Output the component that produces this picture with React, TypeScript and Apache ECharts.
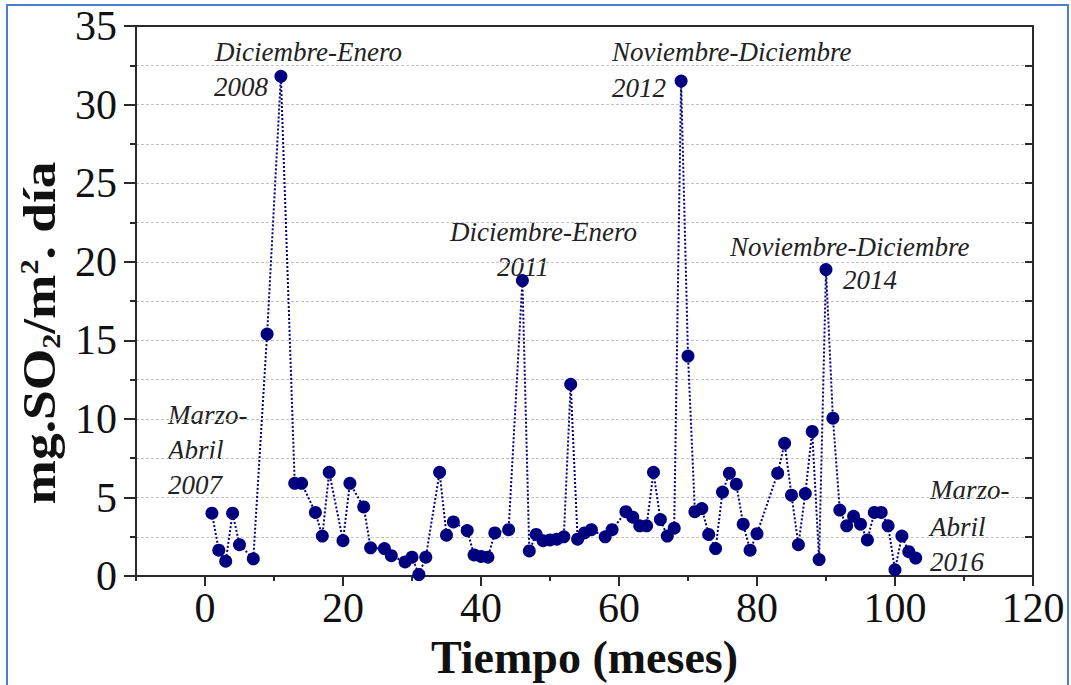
import React, { useEffect, useRef } from "react";
import * as echarts from "echarts";

const months = [1, 2, 3, 4, 5, 7, 9, 11, 13, 14, 16, 17, 18, 20, 21, 23, 24, 26, 27, 29, 30, 31, 32, 34, 35, 36, 38, 39, 40, 41, 42, 44, 46, 47, 48, 49, 50, 51, 52, 53, 54, 55, 56, 58, 59, 61, 62, 63, 64, 65, 66, 67, 68, 69, 70, 71, 72, 73, 74, 75, 76, 77, 78, 79, 80, 83, 84, 85, 86, 87, 88, 89, 90, 91, 92, 93, 94, 95, 96, 97, 98, 99, 100, 101, 102, 103];
const so2 = [4.0, 1.65, 0.95, 4.0, 2.0, 1.1, 15.4, 31.8, 5.9, 5.9, 4.05, 2.55, 6.6, 2.25, 5.9, 4.4, 1.8, 1.75, 1.3, 0.9, 1.2, 0.1, 1.2, 6.6, 2.6, 3.45, 2.9, 1.35, 1.25, 1.2, 2.75, 2.95, 18.8, 1.6, 2.65, 2.25, 2.3, 2.35, 2.5, 12.2, 2.35, 2.75, 2.95, 2.5, 2.95, 4.1, 3.75, 3.2, 3.2, 6.6, 3.6, 2.55, 3.05, 31.5, 14.0, 4.1, 4.3, 2.65, 1.75, 5.35, 6.55, 5.85, 3.3, 1.65, 2.7, 6.55, 8.45, 5.15, 2.0, 5.25, 9.2, 1.05, 19.5, 10.05, 4.2, 3.2, 3.8, 3.3, 2.3, 4.05, 4.05, 3.2, 0.4, 2.55, 1.55, 1.15];
const xMajorTicks = [0, 20, 40, 60, 80, 100, 120];
const xMinorTicks = [-10, 10, 30, 50, 70, 90, 110];

const SERIF = "'Liberation Serif', 'Times New Roman', serif";
const NAVY = "#00007f";
const AXIS = "#2a2a2a";

export default function App() {
  const ref = useRef<HTMLDivElement>(null);
  useEffect(() => {
    if (!ref.current) return;
    const chart = echarts.init(ref.current, null, { renderer: "svg" });
    const annot = (text: string, x: number, y: number, align: string = "left") => ({
      type: "text",
      x,
      y,
      style: {
        text,
        fill: "#222",
        font: `italic 27px ${SERIF}`,
        align,
        verticalAlign: "middle",
      },
    });
    const option: any = {
      animation: false,
      backgroundColor: "#ffffff",
      grid: { left: 136, top: 26, right: 38, bottom: 103 },
      xAxis: [
        {
          type: "value",
          min: -10,
          max: 120,
          interval: 10,
          position: "bottom",
          axisLine: { show: true, onZero: false, lineStyle: { color: AXIS, width: 2 } },
          axisTick: { show: true, customValues: xMajorTicks, length: 10, lineStyle: { color: AXIS, width: 2 } },
          axisLabel: { customValues: xMajorTicks, margin: 11, fontSize: 42, fontFamily: SERIF, color: "#111" },
          splitLine: { show: false },
          name: "Tiempo (meses)",
          nameLocation: "middle",
          nameGap: 50,
          nameTextStyle: { fontSize: 46, fontWeight: "bold", fontFamily: SERIF, color: "#111" },
        },
        {
          type: "value",
          min: -10,
          max: 120,
          interval: 10,
          position: "bottom",
          axisLine: { show: false, onZero: false },
          axisTick: { show: true, customValues: xMinorTicks, length: 5, lineStyle: { color: AXIS, width: 2 } },
          axisLabel: { show: false },
          splitLine: { show: false },
        },
        {
          type: "value",
          min: -10,
          max: 120,
          position: "top",
          axisLine: { show: true, onZero: false, lineStyle: { color: AXIS, width: 2 } },
          axisTick: { show: false },
          axisLabel: { show: false },
          splitLine: { show: false },
        },
      ],
      yAxis: [
        {
          type: "value",
          min: 0,
          max: 35,
          interval: 5,
          position: "left",
          axisLine: { show: true, onZero: false, lineStyle: { color: AXIS, width: 2 } },
          axisTick: { show: true, length: 12, lineStyle: { color: AXIS, width: 2 } },
          minorTick: { show: true, splitNumber: 2, length: 6, lineStyle: { color: AXIS, width: 2 } },
          axisLabel: { margin: 19, fontSize: 42, fontFamily: SERIF, color: "#111" },
          splitLine: { show: true, lineStyle: { color: "#c4c4c4", width: 1.2, type: [3, 2] } },
          minorSplitLine: { show: true, lineStyle: { color: "#c4c4c4", width: 1.2, type: [3, 2] } },
        },
        {
          type: "value",
          min: 0,
          max: 35,
          interval: 2.5,
          position: "right",
          axisLine: { show: true, onZero: false, lineStyle: { color: AXIS, width: 2 } },
          axisTick: { show: true, inside: true, length: 8, lineStyle: { color: AXIS, width: 2 } },
          axisLabel: { show: false },
          splitLine: { show: false },
        },
      ],
      series: [
        {
          type: "line",
          xAxisIndex: 0,
          yAxisIndex: 0,
          data: months.map((m, i) => [m, so2[i]]),
          symbol: "circle",
          symbolSize: 13,
          itemStyle: { color: NAVY },
          lineStyle: { color: NAVY, width: 2, type: [2, 2] },
          z: 5,
        },
      ],
      graphic: [
        {
          type: "rect",
          shape: { x: 7, y: 5, width: 1061, height: 700 },
          style: { fill: "none", stroke: "#4a7fd0", lineWidth: 2 },
          silent: true,
        },
        {
          type: "text",
          x: 40,
          y: 333,
          rotation: Math.PI / 2,
          scaleX: 1.16,
          style: {
            text: "{a|mg.SO}{b|2}{a|/m}{c|2}{a|. día}",
            align: "center",
            verticalAlign: "middle",
            fill: "#111",
            rich: {
              a: { fontSize: 46, fontWeight: "bold", fontFamily: SERIF, lineHeight: 48, verticalAlign: "middle" },
              b: { fontSize: 26, fontWeight: "bold", fontFamily: SERIF, lineHeight: 26, verticalAlign: "bottom" },
              c: { fontSize: 26, fontWeight: "bold", fontFamily: SERIF, lineHeight: 26, verticalAlign: "top" },
            },
          },
        },
        annot("Diciembre-Enero", 215, 52),
        annot("2008", 268, 87, "right"),
        annot("Noviembre-Diciembre", 612, 52),
        annot("2012", 612, 88),
        annot("Diciembre-Enero", 450, 232),
        annot("2011", 497, 267),
        annot("Noviembre-Diciembre", 730, 247),
        annot("2014", 843, 280),
        annot("Marzo-", 168, 415),
        annot("Abril", 168, 450),
        annot("2007", 168, 485),
        annot("Marzo-", 930, 490),
        annot("Abril", 930, 527),
        annot("2016", 930, 562),
      ],
    };
    chart.setOption(option);
    return () => chart.dispose();
  }, []);
  return (
    <div
      ref={ref}
      style={{ position: "fixed", left: 0, top: 0, width: 1071, height: 685, background: "#fff" }}
    />
  );
}
